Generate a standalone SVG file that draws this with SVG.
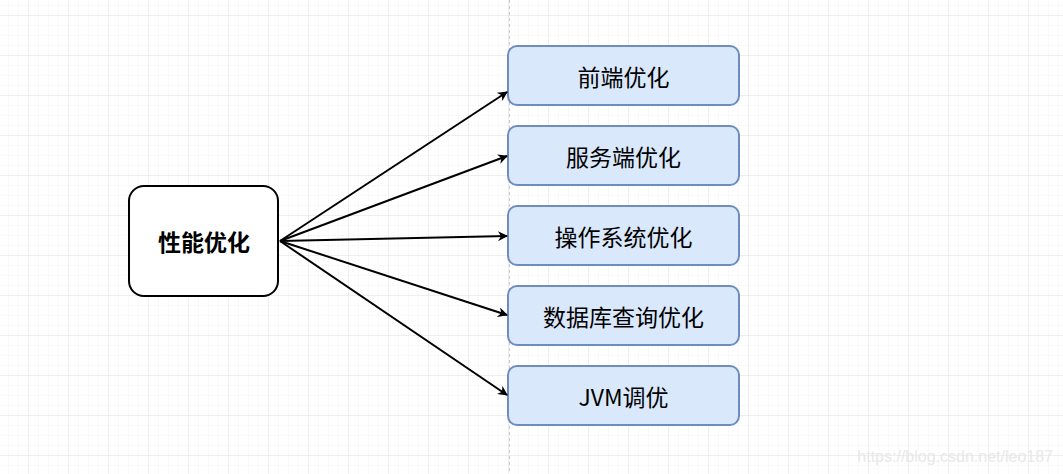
<svg xmlns="http://www.w3.org/2000/svg" width="1063" height="474" viewBox="0 0 1063 474">
<defs>
<pattern id="minor" x="-1" y="-4" width="10" height="10" patternUnits="userSpaceOnUse">
<path d="M10 0V10M0 10H10" fill="none" stroke="#f3f3f3" stroke-width="1"/>
</pattern>
<pattern id="major" x="-11" y="-24" width="40" height="40" patternUnits="userSpaceOnUse">
<path d="M40 0V40M0 40H40" fill="none" stroke="#e3e3e3" stroke-width="1"/>
</pattern>
<marker id="arr" viewBox="0 0 10 10" refX="9" refY="5" markerWidth="10" markerHeight="10" markerUnits="userSpaceOnUse" orient="auto">
<path d="M0 0L10 5L0 10L3 5Z" fill="#000"/>
</marker>
</defs>
<style>
.leaf rect{fill:#dae8fc;stroke:#6c8ebf;stroke-width:2}
.leaf text{font-family:"Noto Sans CJK SC","Liberation Sans",sans-serif;font-size:23px;fill:#000;text-anchor:middle;dominant-baseline:central}
.conn line{stroke:#000;stroke-width:2;marker-end:url(#arr)}
</style>
<rect width="1063" height="474" fill="#fff"/>
<rect width="1063" height="474" fill="url(#minor)"/>
<rect width="1063" height="474" fill="url(#major)"/>
<line x1="509.5" y1="0" x2="509.5" y2="474" stroke="#c8c8c8" stroke-width="1" stroke-dasharray="3,3"/>
<g id="root">
<rect x="129" y="186" width="149" height="110" rx="15" fill="#fff" stroke="#000" stroke-width="2"/>
<text x="204" y="241" font-family="'Noto Sans CJK SC','Liberation Sans',sans-serif" font-size="23" font-weight="bold" text-anchor="middle" dominant-baseline="central">性能优化</text>
</g>
<g id="n1" class="leaf"><rect x="508" y="46" width="231" height="59" rx="9"/><text x="623.5" y="76">前端优化</text></g>
<g id="n2" class="leaf"><rect x="508" y="126" width="231" height="59" rx="9"/><text x="623.5" y="156">服务端优化</text></g>
<g id="n3" class="leaf"><rect x="508" y="206" width="231" height="59" rx="9"/><text x="623.5" y="236">操作系统优化</text></g>
<g id="n4" class="leaf"><rect x="508" y="286" width="231" height="59" rx="9"/><text x="623.5" y="316">数据库查询优化</text></g>
<g id="n5" class="leaf"><rect x="508" y="366" width="231" height="59" rx="9"/><text x="623.5" y="396">JVM调优</text></g>
<g id="connectors" class="conn">
<line x1="280" y1="241" x2="507" y2="92"/>
<line x1="280" y1="241" x2="507" y2="156"/>
<line x1="280" y1="241" x2="507" y2="236"/>
<line x1="280" y1="241" x2="507" y2="315"/>
<line x1="280" y1="241" x2="507" y2="395"/>
</g>
<text x="1053" y="462" font-family="'Liberation Sans',sans-serif" font-size="16" fill="#e8e8e8" text-anchor="end">https://blog.csdn.net/leo187</text>
</svg>
